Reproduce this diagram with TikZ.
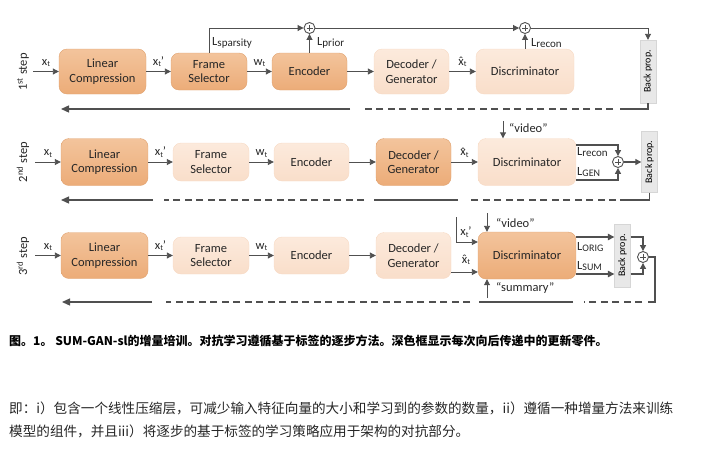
\documentclass[tikz,border=0pt]{standalone}
\usepackage{fontspec}
\setmainfont{Carlito}
\newfontfamily\cjk{Noto Sans CJK SC}
\usetikzlibrary{arrows.meta}
\definecolor{darkT}{RGB}{243,196,156}
\definecolor{darkB}{RGB}{236,172,120}
\definecolor{darkD}{RGB}{224,162,112}
\definecolor{lightT}{RGB}{252,234,220}
\definecolor{lightB}{RGB}{249,222,202}
\definecolor{lightD}{RGB}{247,218,196}
\definecolor{arrc}{RGB}{80,80,80}
\definecolor{bpfill}{RGB}{232,232,232}
\definecolor{bpdraw}{RGB}{214,214,214}
\newcommand\boxfont{\fontsize{12.5}{14.5}\selectfont}
\newcommand\lblfont{\fontsize{12.5}{14}\selectfont}
\newcommand\mysub[1]{\raisebox{-1.5pt}{\fontsize{8}{9}\selectfont #1}}
\newcommand\myloss[1]{\raisebox{-1.5pt}{\fontsize{11}{12}\selectfont #1}}
\newcommand\mycap[1]{\raisebox{-1pt}{\fontsize{10}{11}\selectfont #1}}
\newcommand\xhat{\ooalign{x\cr\hidewidth\raisebox{-0.3pt}{ˆ}\hidewidth\cr}}
\begin{document}
\begin{tikzpicture}[x=1pt,y=-1pt,
  box/.style={rounded corners=8pt, align=center, font=\boxfont, inner sep=1pt, text=black!85},
  dark/.style={box, draw=darkD, top color=darkT, bottom color=darkB},
  light/.style={box, draw=lightD, top color=lightT, bottom color=lightB},
  bp/.style={draw=bpdraw, fill=bpfill, minimum width=16pt, inner sep=0pt, font=\fontsize{10}{11}\selectfont},
  arr/.style={draw=arrc, line width=0.9pt, -{Triangle[length=6pt,width=6pt]}},
  arrt/.style={draw=arrc, line width=1.3pt, -{Triangle[length=6.5pt,width=6.5pt]}},
  bline/.style={draw=arrc, line width=1.3pt},
  bdash/.style={dash pattern=on 7pt off 4.5pt},
  btip/.style={-{Triangle[length=8pt,width=7pt]}},
  lab/.style={font=\lblfont, inner sep=0pt, text=black!85},
  plus/.style={circle, draw=arrc, fill=white, line width=0.9pt, minimum size=11pt, inner sep=0pt,
    path picture={\draw[arrc, line width=0.7pt] ([xshift=-3pt]path picture bounding box.center) -- ([xshift=3pt]path picture bounding box.center)
    ([yshift=-3pt]path picture bounding box.center) -- ([yshift=3pt]path picture bounding box.center);}},
  steplab/.style={font=\fontsize{12.5}{14}\selectfont, rotate=90, inner sep=0pt, text=black!85}
]
\useasboundingbox (0,0) rectangle (701,456);

% ================= Row 1 =================
\node[steplab] (s1) at (23,72) {1\textsuperscript{st} step};
\node[dark,minimum width=87pt,minimum height=45pt] (lc1) at (102.5,71.5) {Linear\\Compression};
\node[dark,minimum width=76pt,minimum height=37pt] (fs1) at (209,71.5) {Frame\\Selector};
\node[dark,minimum width=75pt,minimum height=37pt] (en1) at (309.5,71.5) {Encoder};
\node[light,minimum width=75pt,minimum height=45pt] (dg1) at (411.5,71.5) {Decoder /\\Generator};
\node[light,minimum width=98pt,minimum height=45pt] (di1) at (525,71.5) {Discriminator};
\node[bp,minimum height=63pt] (bp1) at (648,71.5) {\rotatebox{90}{Back prop.}};
\coordinate (in1) at (33,71.5);
\draw[arr] (in1) -- node[lab,above=4pt]{x\mysub{t}} (lc1);
\draw[arr] (lc1) -- node[lab,above=4pt]{x\mysub{t}’} (fs1);
\draw[arr] (fs1) -- node[lab,above=4pt]{w\mysub{t}} (en1);
\draw[arr] (en1) -- (dg1);
\draw[arr] (dg1) -- node[lab,above=4pt]{\xhat\mysub{t}} (di1);
\node[plus] (c1) at (309.5,28) {};
\node[plus] (c2) at (525,28) {};
\draw[arr] (fs1.north) |- (c1);
\draw[arr] (en1) -- (c1);
\draw[arr] (c1) -- (c2);
\draw[arr] (di1) -- (c2);
\draw[arr] (c2) -| (bp1);
\node[lab,anchor=west] (l1a) at (212,43) {L\myloss{sparsity}};
\node[lab,anchor=west] (l1b) at (317,43) {L\myloss{prior}};
\node[lab,anchor=west] (l1c) at (531,43) {L\myloss{recon}};
\coordinate (b1b) at (620,109);
\coordinate (b1c) at (613,109);
\coordinate (b1d) at (362,109);
\coordinate (b1e) at (350,109);
\coordinate (b1f) at (61,109);
\draw[bline] (bp1.south) |- (b1b);
\draw[bline,bdash] (b1c) -- (b1d);
\draw[bline,btip] (b1e) -- (b1f);

% ================= Row 2 =================
\node[steplab] (s2) at (23,162) {2\textsuperscript{nd} step};
\node[dark,minimum width=87pt,minimum height=47pt] (lc2) at (104.5,162) {Linear\\Compression};
\node[light,minimum width=76pt,minimum height=38pt] (fs2) at (211,162) {Frame\\Selector};
\node[light,minimum width=75pt,minimum height=38pt] (en2) at (311.5,162) {Encoder};
\node[dark,minimum width=75pt,minimum height=47pt] (dg2) at (413.5,162) {Decoder /\\Generator};
\node[light,minimum width=98pt,minimum height=47pt] (di2) at (527,162) {Discriminator};
\node[bp,minimum height=61pt] (bp2) at (649.5,162) {\rotatebox{90}{Back prop.}};
\coordinate (in2) at (35,162);
\draw[arr] (in2) -- node[lab,above=4pt]{x\mysub{t}} (lc2);
\draw[arr] (lc2) -- node[lab,above=4pt]{x\mysub{t}’} (fs2);
\draw[arr] (fs2) -- node[lab,above=4pt]{w\mysub{t}} (en2);
\draw[arr] (en2) -- (dg2);
\draw[arr] (dg2) -- node[lab,above=4pt]{\xhat\mysub{t}} (di2);
\coordinate (v2) at (503,121);
\draw[arr] (v2) -- (v2 |- di2.north);
\node[lab,anchor=west] (v2l) at (509,128) {“video”};
\node[plus] (c4) at (618,162) {};
\coordinate (r2u) at (618,145);
\coordinate (r2l) at (618,180);
\draw[arr,line width=1.2pt] (di2.east |- r2u) -| (c4);
\draw[arr,line width=1.2pt] (di2.east |- r2l) -| (c4);
\draw[arr,line width=1.2pt] (c4) -- (bp2);
\node[lab,anchor=west] (l2a) at (577,152) {L\myloss{recon}};
\node[lab,anchor=west] (l2b) at (577,172) {L\mycap{GEN}};
\coordinate (b2b) at (620,200);
\coordinate (b2c) at (616,200);
\coordinate (b2d) at (467,200);
\coordinate (b2e) at (458,200);
\coordinate (b2f) at (374,200);
\coordinate (b2g) at (364,200);
\coordinate (b2h) at (164,200);
\coordinate (b2i) at (153,200);
\coordinate (b2j) at (61,200);
\draw[bline] (bp2.south) |- (b2b);
\draw[bline,bdash] (b2c) -- (b2d);
\draw[bline] (b2e) -- (b2f);
\draw[bline,bdash] (b2g) -- (b2h);
\draw[bline,btip] (b2i) -- (b2j);

% ================= Row 3 =================
\node[steplab] (s3) at (23,256) {3\textsuperscript{rd} step};
\node[dark,minimum width=87pt,minimum height=46pt] (lc3) at (104.5,255.5) {Linear\\Compression};
\node[light,minimum width=76pt,minimum height=37pt] (fs3) at (211,255.5) {Frame\\Selector};
\node[light,minimum width=75pt,minimum height=37pt] (en3) at (311.5,255.5) {Encoder};
\node[light,minimum width=75pt,minimum height=46pt] (dg3) at (413.5,255.5) {Decoder /\\Generator};
\node[dark,minimum width=98pt,minimum height=47pt] (di3) at (527,255.5) {Discriminator};
\node[bp,minimum height=63pt] (bp3) at (622.5,255.5) {\rotatebox{90}{Back prop.}};
\coordinate (in3) at (35,255.5);
\draw[arr] (in3) -- node[lab,above=4pt]{x\mysub{t}} (lc3);
\draw[arr] (lc3) -- node[lab,above=4pt]{x\mysub{t}’} (fs3);
\draw[arr] (fs3) -- node[lab,above=4pt]{w\mysub{t}} (en3);
\draw[arr] (en3) -- (dg3);
\coordinate (x3a) at (456,217);
\coordinate (x3b) at (456,242);
\draw[arr] (x3a) -- (x3b) -- (di3.west |- x3b);
\node[lab] (x3l) at (466,232) {x\mysub{t}’};
\coordinate (h3) at (460,272);
\draw[arr] (dg3.east |- h3) -- (di3.west |- h3);
\node[lab] (h3l) at (466,261) {\xhat\mysub{t}};
\coordinate (v3) at (487,213);
\draw[arr] (v3) -- (v3 |- di3.north);
\node[lab,anchor=west] (v3l) at (496,223) {“video”};
\coordinate (sm3) at (487,298);
\draw[arr] (sm3) -- (sm3 |- di3.south);
\node[lab,anchor=west] (sm3l) at (496,288) {“summary”};
\coordinate (o1) at (600,237);
\coordinate (o2) at (600,274);
\draw[arrt] (di3.east |- o1) -- (bp3.west |- o1);
\draw[arrt] (di3.east |- o2) -- (bp3.west |- o2);
\node[lab,anchor=west] (l3a) at (577,247) {L\mycap{ORIG}};
\node[lab,anchor=west] (l3b) at (577,266) {L\mycap{SUM}};
\node[plus] (c5) at (643,257) {};
\draw[arr,line width=1.2pt] (bp3.east |- o1) -| (c5);
\draw[arr,line width=1.2pt] (bp3.east |- o2) -| (c5);
\coordinate (b3a) at (655,257);
\coordinate (b3b) at (655,302);
\coordinate (b3c) at (648,302);
\coordinate (b3d) at (642,302);
\coordinate (b3e) at (584,302);
\coordinate (b3f) at (573,302);
\coordinate (b3g) at (479,302);
\coordinate (b3h) at (470,302);
\coordinate (b3i) at (166,302);
\coordinate (b3j) at (152,302);
\coordinate (b3k) at (62,302);
\draw[bline] (c5) -- (b3a) -- (b3b) -- (b3c);
\draw[bline,bdash] (b3d) -- (b3e);
\draw[bline] (b3f) -- (b3g);
\draw[bline,bdash] (b3h) -- (b3i);
\draw[bline,btip] (b3j) -- (b3k);

% ================= Text =================
\node[anchor=west, inner sep=0pt, font=\cjk\bfseries\fontsize{12}{14}\selectfont] (cap) at (9,341)
  {图。1。 SUM-GAN-sl的增量培训。对抗学习遵循基于标签的逐步方法。深色框显示每次向后传递中的更新零件。};
\node[anchor=west, inner sep=0pt, text=black!85, font=\cjk\fontsize{13.6}{16}\selectfont] (p1) at (9,408)
  {即：i）包含一个线性压缩层，可减少输入特征向量的大小和学习到的参数的数量，ii）遵循一种增量方法来训练};
\node[anchor=west, inner sep=0pt, text=black!85, font=\cjk\fontsize{13.6}{16}\selectfont] (p2) at (9,431)
  {模型的组件，并且iii）将逐步的基于标签的学习策略应用于架构的对抗部分。};
\end{tikzpicture}
\end{document}
